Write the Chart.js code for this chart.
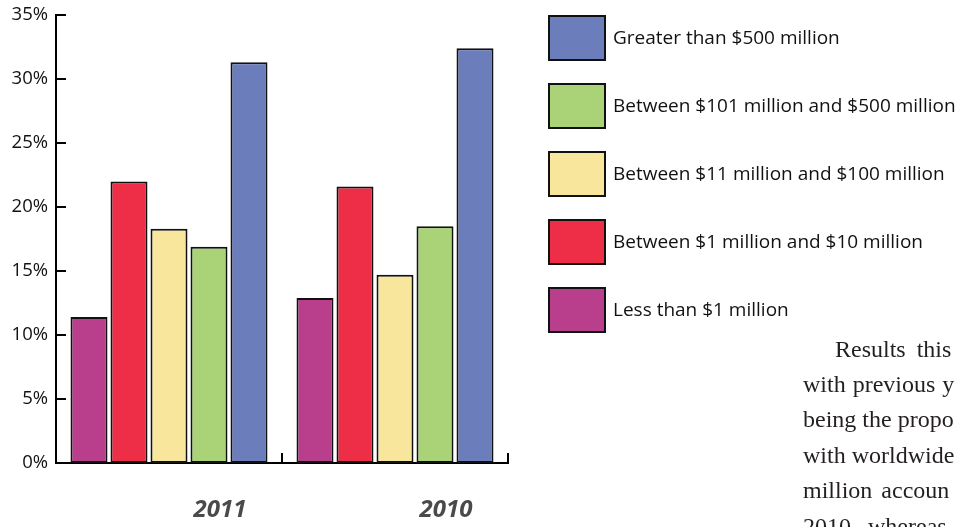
<!DOCTYPE html>
<html>
<head>
<meta charset="utf-8">
<script src="https://cdn.jsdelivr.net/npm/chart.js@4/dist/chart.umd.min.js"></script>
<style>
  html, body { margin: 0; padding: 0; background: #fff; overflow: hidden; }
  #wrap { position: relative; width: 958px; height: 527px; overflow: hidden; background: #fff; }
  #c { position: absolute; left: 0; top: 0; }
  .para {
    position: absolute;
    font-family: "Liberation Serif", "DejaVu Serif", serif;
    font-size: 24px;
    line-height: 24px;
    color: #231f20;
    white-space: nowrap;
  }
</style>
</head>
<body>
<div id="wrap">
  <canvas id="c" width="958" height="527"></canvas>
  <div class="para" style="left:835px; top:337px; word-spacing:5px;">Results this</div>
  <div class="para" style="left:803px; top:372px; word-spacing:1px;">with previous y</div>
  <div class="para" style="left:803px; top:407px;">being the propo</div>
  <div class="para" style="left:803px; top:443px;">with worldwide</div>
  <div class="para" style="left:803px; top:478px; word-spacing:3px;">million accoun</div>
  <div class="para" style="left:803px; top:514px; word-spacing:5px;">2010, whereas</div>
</div>
<script>
// Survey years on the x axis
const years = ['2011', '2010'];

// Revenue bands, smallest to largest
const bandNames = [
  'Less than $1 million',
  'Between $1 million and $10 million',
  'Between $11 million and $100 million',
  'Between $101 million and $500 million',
  'Greater than $500 million'
];

// Share of respondents (%) per band, one value per year
const lessThan1M      = [11.4, 12.9];
const from1To10M      = [22.0, 21.6];
const from11To100M    = [18.3, 14.7];
const from101To500M   = [16.9, 18.5];
const greaterThan500M = [31.3, 32.4];

// Y-axis tick marks
const yTickValues = [0, 5, 10, 15, 20, 25, 30, 35];

const bandColors = ['#b93e8b', '#ee2d47', '#f9e69d', '#aad377', '#6c7dbc'];
const seriesValues = [lessThan1M, from1To10M, from11To100M, from101To500M, greaterThan500M];

const LEGEND = { left: 548, top: 15, step: 68, boxW: 58, boxH: 46, gap: 7 };
const SANS = '"Open Sans", "Noto Sans", sans-serif';

// Short tick marks drawn inward from the axis lines
const inwardTicks = {
  id: 'inwardTicks',
  afterDatasetsDraw(chart) {
    const { ctx, chartArea, scales: { x, y } } = chart;
    ctx.save();
    ctx.strokeStyle = '#000';
    ctx.lineWidth = 2;
    ctx.beginPath();
    y.ticks.forEach(t => {
      if (t.value === 0) return;
      const py = Math.round(y.getPixelForValue(t.value));
      ctx.moveTo(chartArea.left, py);
      ctx.lineTo(chartArea.left + 10, py);
    });
    x.ticks.forEach((t, i) => {
      const px = Math.round(x.getPixelForValue(i + 0.5));
      ctx.moveTo(px, chartArea.bottom + 1);
      ctx.lineTo(px, chartArea.bottom - 10);
    });
    ctx.stroke();
    ctx.restore();
  }
};

// Stacked legend of large swatches, largest band on top
const sideLegend = {
  id: 'sideLegend',
  afterDraw(chart) {
    const { ctx } = chart;
    const sets = chart.data.datasets.slice().reverse();
    ctx.save();
    sets.forEach((ds, k) => {
      const top = LEGEND.top + k * LEGEND.step;
      ctx.fillStyle = ds.backgroundColor;
      ctx.fillRect(LEGEND.left + 1, top + 1, LEGEND.boxW - 2, LEGEND.boxH - 2);
      ctx.lineWidth = 2;
      ctx.strokeStyle = '#111';
      ctx.strokeRect(LEGEND.left + 1, top + 1, LEGEND.boxW - 2, LEGEND.boxH - 2);
      ctx.fillStyle = '#111';
      ctx.font = '19px ' + SANS;
      ctx.textBaseline = 'middle';
      ctx.textAlign = 'left';
      ctx.fillText(ds.label, LEGEND.left + LEGEND.boxW + LEGEND.gap, top + LEGEND.boxH / 2 + 1);
    });
    ctx.restore();
  }
};

function draw() {
  new Chart(document.getElementById('c'), {
    type: 'bar',
    data: {
      labels: years,
      datasets: bandNames.map((name, i) => ({
        label: name,
        data: seriesValues[i],
        backgroundColor: bandColors[i],
        borderColor: '#111',
        borderWidth: 2,
        borderSkipped: false,
        categoryPercentage: 0.885,
        barPercentage: 0.925
      }))
    },
    options: {
      responsive: false,
      animation: false,
      devicePixelRatio: 1,
      layout: { padding: { top: 15, right: 450, bottom: 0, left: 0 } },
      plugins: {
        legend: { display: false },
        tooltip: { enabled: false }
      },
      scales: {
        x: {
          grid: { display: false, drawTicks: false },
          border: { display: true, color: '#000', width: 2 },
          ticks: {
            color: '#4a4a4c',
            font: { family: SANS, size: 24, weight: 'bold', style: 'italic' },
            padding: 33,
            labelOffset: 51
          },
          afterFit(s) { s.height = 64; }
        },
        y: {
          min: 0,
          max: 35,
          afterBuildTicks(s) { s.ticks = yTickValues.map(v => ({ value: v })); },
          grid: { display: false, drawTicks: false },
          border: { display: true, color: '#000', width: 2 },
          ticks: {
            color: '#111',
            font: { family: SANS, size: 18.5 },
            padding: 8,
            callback: v => v + '%'
          },
          afterFit(s) {
            s.width = 56;
            s.paddingTop = 0;
            s.paddingBottom = 0;
          }
        }
      }
    },
    plugins: [inwardTicks, sideLegend]
  });
}

const fontLoads = [
  '18.5px "Open Sans"',
  'italic bold 24px "Open Sans"',
  '24px "Liberation Serif"'
].map(f => document.fonts.load(f).catch(() => null));
Promise.all(fontLoads).then(draw, draw);
</script>
</body>
</html>
